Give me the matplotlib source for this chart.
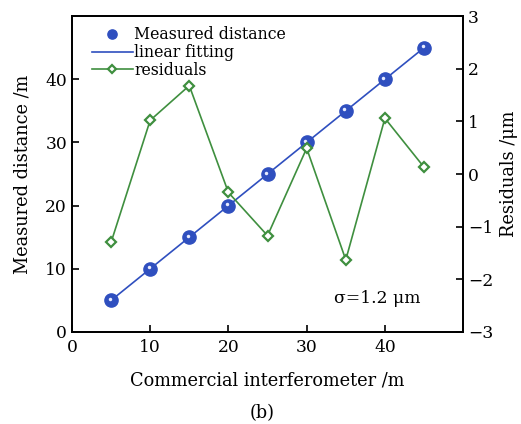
import matplotlib
matplotlib.use("Agg")
import matplotlib.pyplot as plt
from matplotlib.transforms import offset_copy

plt.rcParams['font.family'] = ['DejaVu Serif']
plt.rcParams['mathtext.fontset'] = 'dejavuserif'

commercial = [5, 10, 15, 20, 25, 30, 35, 40, 45]
measured = [5, 10, 15, 20, 25, 30, 35, 40, 45]
residuals = [-1.30, 1.02, 1.68, -0.35, -1.17, 0.49, -1.63, 1.06, 0.13]

blue = '#2f4fbf'
green = '#3f8f3f'

fig = plt.figure(figsize=(5.21, 4.24), dpi=100)
ax = fig.add_axes([0.138, 0.217, 0.751, 0.745])
ax2 = ax.twinx()

fs_tick = 12.3
fs_lab = 12.8
fs_leg = 11.3

ax.plot(commercial, measured, '-', color=blue, lw=1.2, zorder=3, label='linear fitting')
ax.plot(commercial, measured, 'o', color=blue, ms=9.5, mec=blue, zorder=4,
        label='Measured distance', ls='none')
hl = offset_copy(ax.transData, fig=fig, x=-1.5, y=1.5, units='dots')
ax.plot(commercial, measured, 'o', color='#e8ecff', ms=2.5, mec='none',
        transform=hl, zorder=5, ls='none')

ax2.plot(commercial, residuals, '-', color=green, lw=1.2, marker='D', ms=5.5,
         mfc='white', mec=green, mew=1.6, zorder=3, label='residuals')

ax.set_xlim(0, 50)
ax.set_ylim(0, 50)
ax2.set_ylim(-3, 3)
ax.set_xticks([0, 10, 20, 30, 40])
ax.set_yticks([0, 10, 20, 30, 40])
ax2.set_yticks([-3, -2, -1, 0, 1, 2, 3])
ax2.set_yticklabels(['\u22123', '\u22122', '\u22121', '0', '1', '2', '3'])

ax.tick_params(direction='in', length=5, width=1.2, labelsize=fs_tick, top=False)
ax.tick_params(axis='x', pad=5)
ax2.tick_params(direction='in', length=5, width=1.2, labelsize=fs_tick)
for a in (ax, ax2):
    for s in a.spines.values():
        s.set_linewidth(1.3)

ax.set_xlabel('Commercial interferometer /m', fontsize=fs_lab, labelpad=11)
ax.set_ylabel('Measured distance /m', fontsize=fs_lab, labelpad=10)
ax2.set_ylabel('Residuals /\u03bcm', fontsize=fs_lab, labelpad=5)

ax.text(33.5, 4.0, '\u03c3=1.2 \u03bcm', fontsize=fs_tick, ha='left', va='bottom')
fig.text(0.503, 0.026, '(b)', fontsize=fs_lab, ha='center', va='center')

h1, l1 = ax.get_legend_handles_labels()
h2, l2 = ax2.get_legend_handles_labels()
handles = [h1[1], h1[0], h2[0]]
labels = [l1[1], l1[0], l2[0]]
ax2.legend(handles, labels, loc='upper left', frameon=False, fontsize=fs_leg,
           handlelength=2.6, handletextpad=0.1, labelspacing=0.05, markerscale=0.7,
           borderaxespad=0.25, bbox_to_anchor=(0.025, 1.0))

fig.savefig('out.png', dpi=100)
